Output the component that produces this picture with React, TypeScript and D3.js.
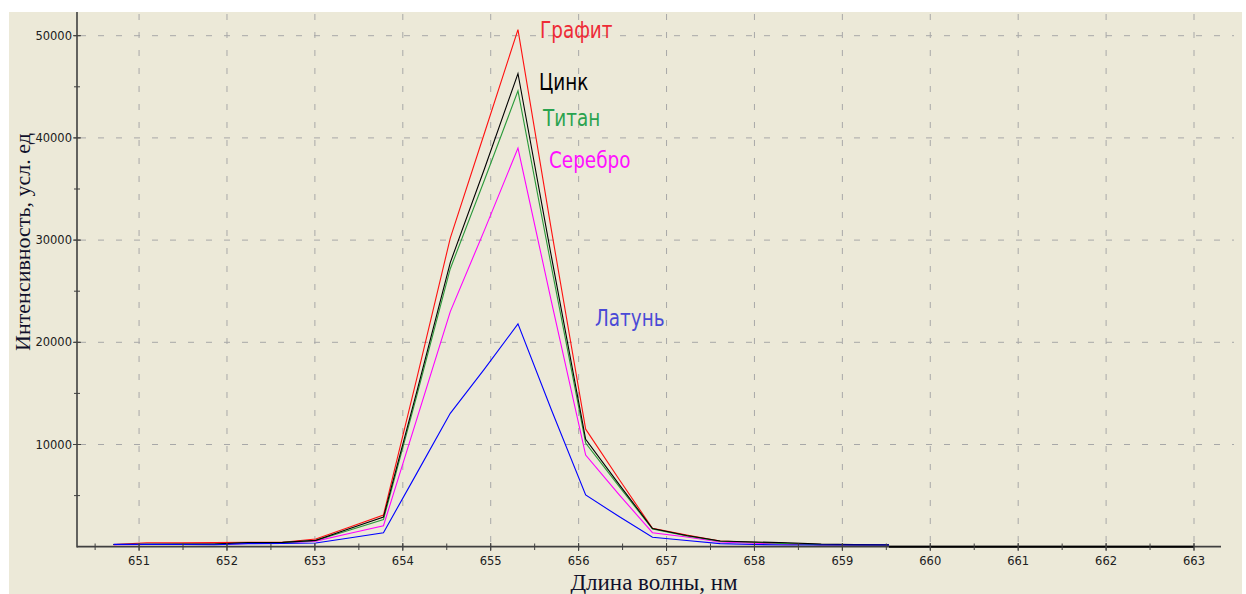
import React from "react";
import * as d3 from "d3";

// Wavelength grid (nm) shared by all spectra
const wavelengths = [
  650.71, 651.09, 651.48, 651.86, 652.24, 652.63, 653.01, 653.39, 653.78, 654.16,
  654.54, 654.93, 655.31, 655.69, 656.08, 656.46, 656.84, 657.23, 657.61, 657.99,
  658.38, 658.76, 659.14, 659.53,
];

// Intensity, arbitrary units
const grafit = [
  200, 380, 390, 400, 420, 440, 750, 1900, 3100, 16500, 30200, 40500, 50600, 31000,
  11500, 6600, 1800, 1150, 560, 440, 300, 200, 180, 170,
];
const silver = [
  190, 220, 230, 240, 330, 360, 550, 1300, 2050, 12500, 23000, 31000, 39000, 24000,
  8970, 5100, 1370, 950, 460, 350, 250, 190, 170, 160,
];
const titan = [
  210, 230, 240, 250, 390, 400, 600, 1600, 2650, 14800, 27200, 35900, 44600, 27400,
  10150, 5900, 1730, 1050, 540, 430, 300, 200, 180, 170,
];
const zinc = [
  220, 240, 250, 260, 400, 420, 620, 1750, 2900, 15200, 27800, 37000, 46300, 28400,
  10500, 6100, 1780, 1100, 560, 460, 390, 250, 200, 180,
];
const brass = [
  230, 230, 220, 190, 300, 320, 360, 850, 1370, 7200, 13050, 17400, 21800, 13400,
  5060, 2950, 920, 600, 300, 220, 170, 170, 170, 160,
];

const xTicks = d3.range(651, 664);
const xMinorTicks = d3.range(650.5, 663.5, 0.5);
const yTicks = [10000, 20000, 30000, 40000, 50000];
const yMinorTicks = d3.range(5000, 55000, 5000);

const series = [
  { name: "Графит", values: grafit, stroke: "#ff1010", labelColor: "#ee2b36", label: [540, 38] },
  { name: "Серебро", values: silver, stroke: "#ff00ff", labelColor: "#ff10ff", label: [549, 168] },
  { name: "Титан", values: titan, stroke: "#2a9a3a", labelColor: "#2aa34f", label: [543, 126] },
  { name: "Цинк", values: zinc, stroke: "#000000", labelColor: "#000000", label: [539, 90] },
  { name: "Латунь", values: brass, stroke: "#0000ff", labelColor: "#4a4ad6", label: [595, 326] },
];

const W = 1246;
const H = 594;

export default function App() {
  const x = d3.scaleLinear().domain([650.294, 663.307]).range([77, 1221]);
  const y = d3.scaleLinear().domain([0, 50000]).range([546.7, 35.7]);

  const line = d3
    .line<number>()
    .x((_, i) => x(wavelengths[i]))
    .y((d) => y(d));

  const tickFont = "'DejaVu Sans', Verdana, sans-serif";
  const labelFont = "'Liberation Serif', 'Times New Roman', serif";
  const seriesFont = "'DejaVu Sans', sans-serif";

  return (
    <svg
      width={W}
      height={H}
      style={{ position: "absolute", left: 0, top: 0, background: "#ffffff" }}
    >
      <rect x={9} y={12} width={1233} height={582} fill="#ece9d8" />

      {/* grid */}
      <g stroke="#a8a8a8" strokeWidth={1} strokeDasharray="6,12">
        {xTicks.map((t) => (
          <line key={"gx" + t} x1={x(t)} x2={x(t)} y1={14} y2={545} />
        ))}
        {yTicks.map((t) => (
          <line key={"gy" + t} x1={80} x2={1234} y1={y(t)} y2={y(t)} />
        ))}
      </g>

      {/* spectra */}
      <g fill="none" strokeWidth={1.1} strokeLinejoin="miter">
        {series.map((s) => (
          <path key={s.name} d={line(s.values) || ""} stroke={s.stroke} />
        ))}
      </g>

      {/* axes */}
      <g stroke="#404040">
        <line x1={77} x2={77} y1={12} y2={547.5} strokeWidth={1.6} />
        <line x1={77} x2={1221} y1={546.7} y2={546.7} strokeWidth={1.8} />
        <line x1={x(659.53)} x2={x(663)} y1={546.7} y2={546.7} strokeWidth={2} stroke="#000" />
        {yTicks.map((t) => (
          <line key={"ty" + t} x1={73} x2={81} y1={y(t)} y2={y(t)} strokeWidth={1} />
        ))}
        {yMinorTicks.map((t) => (
          <line key={"tmy" + t} x1={74} x2={80} y1={y(t)} y2={y(t)} strokeWidth={1} />
        ))}
        {xTicks.map((t) => (
          <line key={"tx" + t} x1={x(t)} x2={x(t)} y1={543} y2={551} strokeWidth={1} />
        ))}
        {xMinorTicks.map((t) => (
          <line key={"tmx" + t} x1={x(t)} x2={x(t)} y1={543.5} y2={550} strokeWidth={1} />
        ))}
      </g>

      {/* tick labels */}
      <g fontFamily={tickFont} fontSize={11.5} fill="#202020">
        {yTicks.map((t) => (
          <text key={"ly" + t} x={72} y={y(t) + 4} textAnchor="end">
            {t}
          </text>
        ))}
        {xTicks.map((t) => (
          <text key={"lx" + t} x={x(t)} y={565} textAnchor="middle">
            {t}
          </text>
        ))}
      </g>

      {/* axis titles */}
      <text
        x={654}
        y={590}
        textAnchor="middle"
        fontFamily={labelFont}
        fontSize={23}
        fill="#10102a"
      >
        Длина волны, нм
      </text>
      <text
        transform="translate(30,242) rotate(-90)"
        textAnchor="middle"
        fontFamily={labelFont}
        fontSize={22}
        fill="#10102a"
      >
        Интенсивность, усл. ед
      </text>

      {/* series names, drawn in a narrowed face */}
      <g fontFamily={seriesFont} fontSize={23}>
        {series.map((s) => (
          <text
            key={"n" + s.name}
            transform={`translate(${s.label[0]},${s.label[1]}) scale(0.8,1)`}
            fill={s.labelColor}
          >
            {s.name}
          </text>
        ))}
      </g>
    </svg>
  );
}
